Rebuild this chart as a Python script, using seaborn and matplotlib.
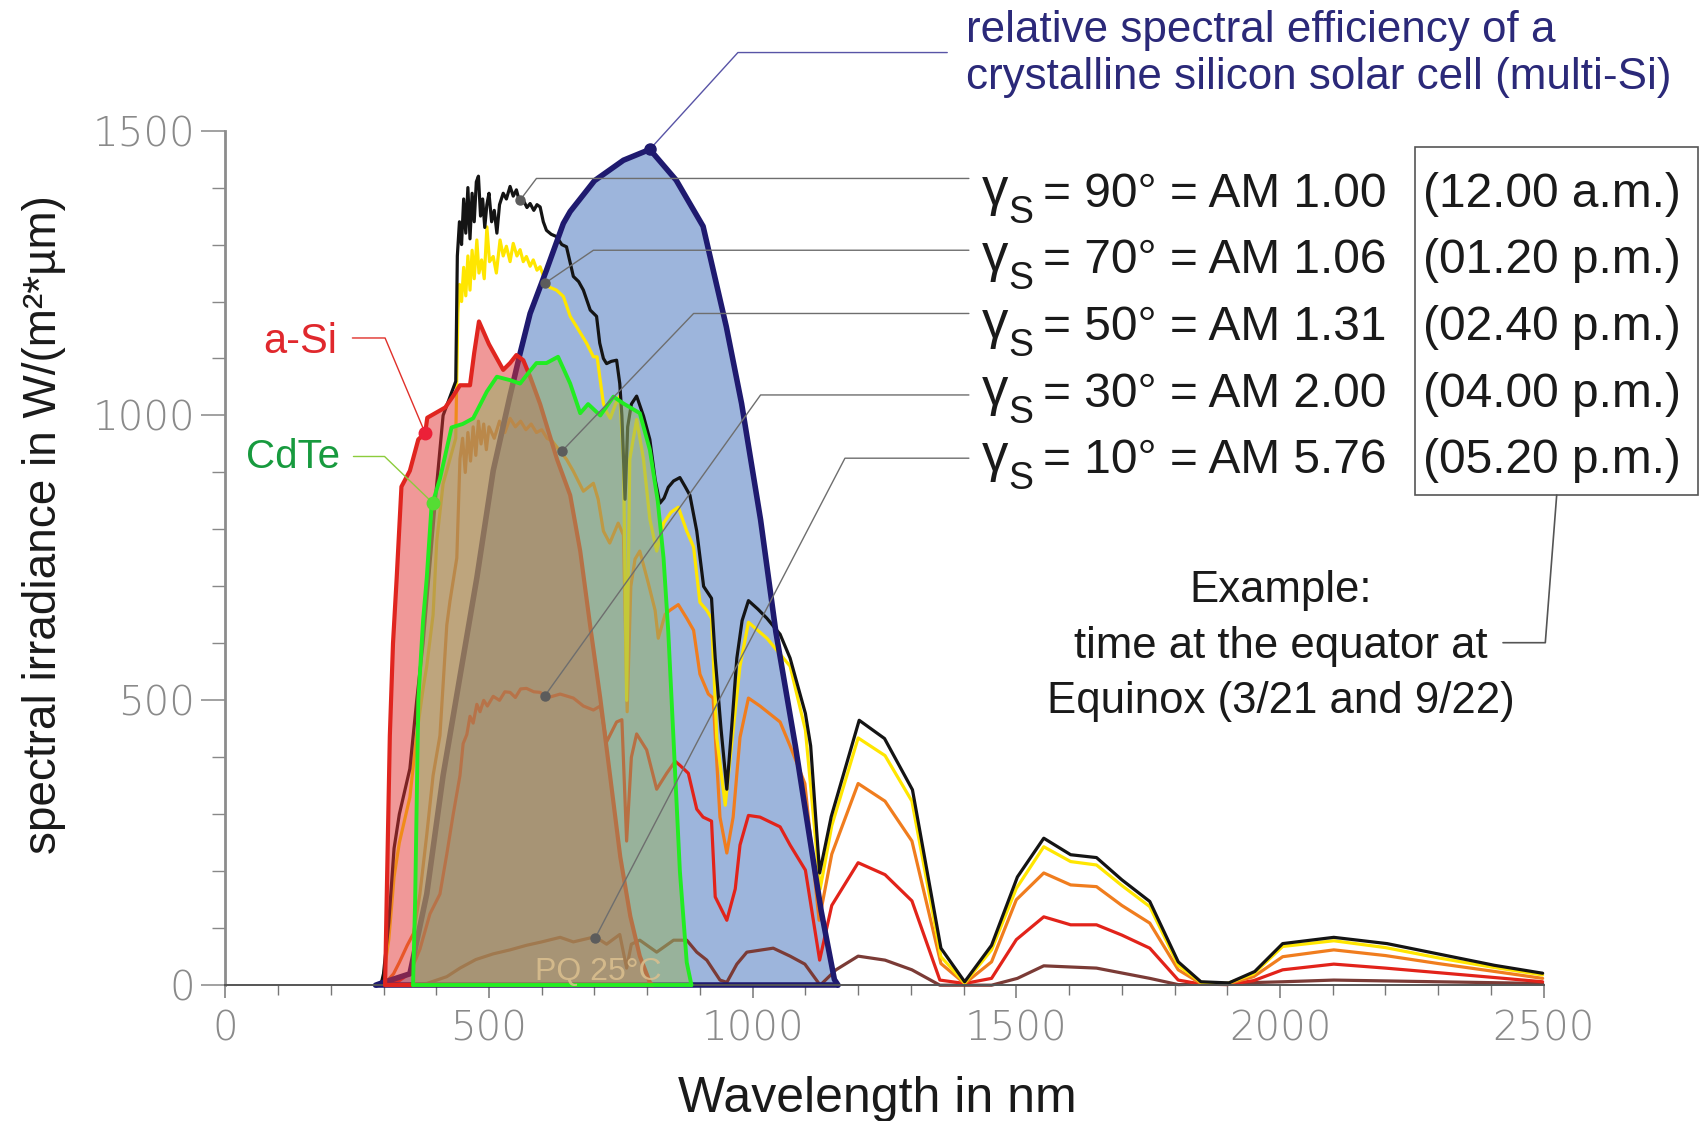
import matplotlib
matplotlib.use("Agg")
import matplotlib.pyplot as plt
import seaborn as sns
import pandas as pd
from matplotlib.patches import Rectangle
from matplotlib.lines import Line2D
from matplotlib.ticker import MultipleLocator

# ---------------- data ----------------
# relative spectral efficiency of multi-Si (scaled)
msi_nm = [285, 300, 350, 382, 413, 445, 477, 508, 540, 559, 578, 609, 641, 654, 700, 755, 805,
          855, 906, 950, 979, 1015, 1044, 1081, 1102, 1130, 1155, 1162]
msi_val = [0, 5, 20, 160, 368, 542, 715, 903, 1035, 1109, 1179, 1255, 1337, 1358, 1412, 1448, 1467,
           1413, 1332, 1156, 1021, 817, 620, 420, 295, 130, 10, 0]

# a-Si relative response (scaled)
asi_nm = [303, 306, 312, 318, 325, 334, 350, 366, 379, 383, 400, 417, 432, 445, 464, 472, 481, 500,
          527, 540, 552, 565, 578, 597, 629, 654, 673, 692, 711, 730, 749, 768, 786, 805, 810]
asi_val = [0, 150, 438, 600, 715, 875, 903, 958, 969, 996, 1005, 1014, 1034, 1053, 1053, 1110, 1165, 1125,
           1080, 1092, 1106, 1097, 1068, 1020, 923, 860, 762, 630, 504, 365, 225, 121, 51, 5, 0]

# CdTe relative response (scaled)
cdte_nm = [356, 360, 366, 375, 382, 391, 407, 429, 450, 470, 496, 515, 540, 559, 575, 590, 609, 631,
           654, 673, 688, 711, 736, 755, 786, 805, 820, 831, 840, 850, 862, 875, 884]
cdte_val = [0, 150, 500, 640, 715, 840, 889, 979, 985, 995, 1042, 1068, 1062, 1056, 1075, 1092, 1092, 1103,
            1056, 1004, 1020, 1000, 1033, 1021, 1004, 940, 850, 750, 620, 430, 200, 40, 0]

# spectra: gamma_S = 90 deg (AM 1.00)
am100_nm = [295, 300, 310, 320, 330, 340, 350, 363, 375, 390, 401, 413, 425, 437, 440, 444, 448, 452,
            456, 460, 464, 468, 472, 476, 480, 484, 488, 492, 496, 500, 505, 510, 515, 520, 527, 533,
            540, 546, 552, 558, 565, 572, 578, 585, 591, 597, 603, 609, 618, 628, 638, 647, 660, 670,
            679, 692, 704, 710, 717, 723, 732, 742, 748, 752, 758, 763, 770, 780, 793, 805, 815, 824,
            832, 840, 850, 862, 872, 881, 894, 907, 922, 929, 940, 951, 960, 970, 980, 992, 1010, 1027,
            1052, 1071, 1100, 1110, 1127, 1149, 1202, 1250, 1303, 1357, 1402, 1453, 1502, 1552, 1603,
            1652, 1700, 1753, 1807, 1850, 1903, 1952, 2005, 2102, 2203, 2310, 2406, 2498]
am100_val = [0, 20, 110, 240, 300, 340, 380, 500, 600, 760, 880, 1000, 1030, 1060, 1280, 1340, 1300, 1380,
             1320, 1400, 1310, 1390, 1340, 1410, 1420, 1350, 1380, 1330, 1370, 1390, 1340, 1360, 1320, 1370, 1390, 1380,
             1402, 1385, 1396, 1375, 1378, 1365, 1372, 1360, 1370, 1366, 1340, 1325, 1318, 1314, 1300, 1296, 1244, 1235,
             1220, 1185, 1174, 1127, 1100, 1091, 1095, 1097, 1056, 1000, 853, 980, 1020, 1034, 999, 958, 888, 846,
             855, 874, 885, 891, 875, 860, 797, 700, 679, 574, 450, 344, 450, 574, 640, 675, 660, 644,
             616, 574, 477, 420, 197, 296, 465, 433, 343, 65, 6, 70, 190, 258, 229,
             224, 185, 147, 41, 6, 4, 24, 73, 84, 73, 53, 35, 21]

# gamma_S = 70 deg (AM 1.06)
am106_nm = [295, 300, 310, 320, 330, 340, 350, 363, 375, 382, 394, 401, 413, 425, 437, 441, 444, 448,
            452, 456, 460, 464, 468, 472, 477, 481, 486, 491, 496, 501, 508, 514, 521, 527, 533, 540,
            546, 553, 559, 565, 571, 578, 584, 591, 597, 606, 615, 628, 641, 654, 666, 685, 698, 705,
            710, 717, 723, 730, 740, 748, 755, 761, 767, 780, 793, 805, 818, 831, 845, 859, 875, 888,
            900, 913, 922, 932, 948, 963, 976, 992, 1027, 1052, 1071, 1100, 1128, 1150, 1200, 1251,
            1302, 1357, 1402, 1453, 1500, 1552, 1603, 1652, 1700, 1753, 1807, 1850, 1900, 1950, 2005,
            2102, 2200, 2300, 2400, 2498]
am106_val = [0, 15, 80, 190, 250, 290, 330, 440, 520, 560, 650, 780, 880, 920, 960, 1180, 1230, 1200,
             1260, 1210, 1280, 1220, 1290, 1240, 1308, 1250, 1273, 1240, 1331, 1270, 1279, 1250, 1308, 1280, 1297, 1270,
             1302, 1280, 1291, 1270, 1279, 1262, 1273, 1255, 1261, 1238, 1225, 1220, 1209, 1174, 1156, 1127, 1103, 1103,
             1068, 1021, 1006, 995, 1020, 1034, 923, 500, 923, 993, 923, 818, 762, 811, 830, 839, 797, 769,
             672, 658, 644, 434, 316, 448, 560, 637, 609, 581, 560, 448, 169, 280, 434, 403,
             323, 50, 4, 62, 170, 243, 217, 211, 175, 138, 35, 5, 3, 20, 68,
             78, 66, 48, 32, 18]

# gamma_S = 50 deg (AM 1.31)
am131_nm = [300, 319, 330, 345, 357, 369, 382, 394, 407, 420, 426, 439, 445, 450, 455, 460, 465, 470,
            475, 480, 485, 490, 495, 500, 510, 520, 530, 540, 550, 560, 570, 580, 590, 600, 610, 620,
            635, 647, 660, 679, 698, 707, 717, 729, 745, 755, 762, 769, 777, 786, 802, 815, 821, 834,
            843, 859, 875, 888, 900, 916, 925, 938, 951, 963, 976, 992, 1014, 1052, 1071, 1099, 1126,
            1150, 1200, 1251, 1302, 1357, 1402, 1453, 1500, 1552, 1603, 1652, 1700, 1753, 1807, 1850,
            1900, 1950, 2005, 2102, 2200, 2300, 2400, 2498]
am131_val = [0, 20, 40, 70, 91, 160, 264, 368, 438, 632, 674, 750, 924, 960, 900, 970, 920, 980,
             930, 990, 950, 985, 940, 980, 960, 990, 970, 995, 980, 990, 975, 985, 970, 975, 960, 955,
             937, 923, 902, 867, 881, 853, 797, 776, 811, 790, 480, 700, 748, 762, 706, 658, 609, 651,
             658, 668, 644, 623, 546, 511, 504, 295, 232, 295, 435, 504, 490, 462, 420, 354, 114,
             230, 354, 323, 253, 38, 3, 41, 150, 197, 176, 173, 140, 109, 27, 3,
             2, 15, 50, 62, 52, 38, 25, 12]

# gamma_S = 30 deg (AM 2.00)
am200_nm = [300, 330, 350, 369, 388, 407, 420, 432, 445, 451, 458, 464, 470, 477, 483, 490, 497, 508,
            520, 530, 540, 550, 560, 571, 585, 597, 609, 635, 660, 679, 698, 711, 723, 742, 752, 761,
            770, 780, 799, 818, 837, 853, 862, 878, 894, 906, 922, 929, 951, 967, 976, 992, 1014, 1052,
            1071, 1100, 1127, 1150, 1200, 1251, 1302, 1355, 1402, 1453, 1500, 1552, 1603, 1652, 1700,
            1753, 1807, 1850, 1900, 1950, 2005, 2102, 2200, 2300, 2400, 2498]
am200_val = [0, 8, 21, 63, 125, 160, 230, 299, 368, 424, 440, 472, 460, 493, 480, 500, 490, 507,
             500, 515, 514, 505, 520, 521, 515, 514, 504, 511, 504, 490, 483, 490, 427, 462, 466, 253,
             400, 441, 413, 344, 372, 393, 386, 372, 309, 295, 288, 155, 114, 169, 246, 298, 295, 278,
             246, 202, 44, 140, 215, 194, 148, 9, 3, 12, 80, 120, 106, 106, 88,
             65, 9, 2, 1, 8, 27, 37, 30, 22, 14, 6]

# gamma_S = 10 deg (AM 5.76)
am576_nm = [330, 382, 420, 445, 475, 508, 540, 571, 600, 635, 660, 701, 723, 748, 761, 770, 786, 818,
            850, 875, 894, 913, 938, 951, 970, 989, 1039, 1071, 1099, 1128, 1158, 1200, 1251, 1302,
            1355, 1453, 1502, 1552, 1652, 1753, 1807, 2005, 2102, 2498]
am576_val = [0, 3, 15, 30, 45, 55, 62, 70, 76, 84, 76, 85, 72, 89, 30, 72, 79, 58,
             79, 79, 58, 44, 9, 5, 37, 58, 65, 51, 37, 0, 27, 51, 44, 27,
             0, 0, 12, 34, 30, 12, 1, 6, 9, 3]

series_names = ["AM 5.76", "AM 2.00", "AM 1.31", "AM 1.06", "AM 1.00"]
series_colors = ["#7b3b36", "#e2231a", "#f07d1e", "#ffe600", "#141414"]

# labels
gamma_angles = ["90°", "70°", "50°", "30°", "10°"]
am_labels = ["AM 1.00", "AM 1.06", "AM 1.31", "AM 2.00", "AM 5.76"]
time_labels = ["(12.00 a.m.)", "(01.20 p.m.)", "(02.40 p.m.)", "(04.00 p.m.)", "(05.20 p.m.)"]

# leader anchors (data coords): dot on curve, corner of the leader
lead_dot_nm = [559, 606, 638, 606, 701]
lead_dot_val = [1378, 1232, 937, 508, 82]
lead_corner_nm = [590, 698, 888, 1015, 1175]
lead_corner_val = [1416, 1290, 1179, 1036, 925]
lead_end_nm = 1410

x_ticks = [0, 500, 1000, 1500, 2000, 2500]
y_ticks = [0, 500, 1000, 1500]

# ---------------- figure ----------------
sns.set_style("white")
plt.rcParams['font.family'] = ['Liberation Sans', 'DejaVu Sans']

W, H = 1707, 1121
fig = plt.figure(figsize=(W / 100, H / 100), dpi=100)
ax = fig.add_axes([225.3 / W, 1 - 985.2 / H, 1318.4 / W, 854.6 / H])
ax.set_xlim(0, 2500)
ax.set_ylim(0, 1500)


def fx(X):
    return X / W


def fy(Y):
    return 1 - Y / H


# multi-Si efficiency area
ax.fill_between(msi_nm, msi_val, 0, facecolor="#9db5dc", lw=0, zorder=1)
sns.lineplot(x=msi_nm, y=msi_val, color="#1f1a6f", linewidth=4.0, sort=False, estimator=None,
             ax=ax, zorder=2.5, clip_on=False)
ax.plot([msi_nm[0], msi_nm[-1]], [0, 0], color="#1f1a6f", lw=4.0, zorder=2.5, clip_on=False,
        solid_capstyle="butt")

# spectra
frames = []
for name, xs, ys in [("AM 1.00", am100_nm, am100_val), ("AM 1.06", am106_nm, am106_val),
                     ("AM 1.31", am131_nm, am131_val), ("AM 2.00", am200_nm, am200_val),
                     ("AM 5.76", am576_nm, am576_val)]:
    frames.append(pd.DataFrame({"nm": xs, "val": ys, "series": name}))
spec = pd.concat(frames, ignore_index=True)
sns.lineplot(data=spec, x="nm", y="val", hue="series", hue_order=series_names,
             palette=dict(zip(series_names, series_colors)), estimator=None, sort=False,
             legend=False, linewidth=2.3, ax=ax, zorder=2, clip_on=False)

# a-Si area
ax.fill_between(asi_nm, asi_val, 0, facecolor=(226 / 255, 50 / 255, 50 / 255, 0.5), lw=0, zorder=3)
sns.lineplot(x=asi_nm, y=asi_val, color="#e0251f", linewidth=3.0, sort=False, estimator=None,
             ax=ax, zorder=3.2, clip_on=False)
ax.plot([asi_nm[0], asi_nm[-1]], [0, 0], color="#e0251f", lw=3.0, zorder=3.2, clip_on=False)

# CdTe area
ax.fill_between(cdte_nm, cdte_val, 0, facecolor=(149 / 255, 177 / 255, 103 / 255, 0.55), lw=0, zorder=4)
sns.lineplot(x=cdte_nm, y=cdte_val, color="#22ec22", linewidth=2.8, sort=False, estimator=None,
             ax=ax, zorder=4.2, clip_on=False)
ax.plot([cdte_nm[0], cdte_nm[-1]], [0, 0], color="#22ec22", lw=2.8, zorder=4.2, clip_on=False)

# PQ 25 C
fig.text(fx(535), fy(980), "PQ 25°C", fontsize=23, color="#dcc08f", alpha=0.85, zorder=10)

# leaders for the spectra
for i in range(5):
    ax.plot([lead_dot_nm[i], lead_corner_nm[i], lead_end_nm],
            [lead_dot_val[i], lead_corner_val[i], lead_corner_val[i]],
            color="#6e6e6e", lw=1.0, zorder=6, clip_on=False)
    ax.plot(lead_dot_nm[i], lead_dot_val[i], "o", ms=6.5, color="#5c5c5c", zorder=6.5, clip_on=False)

# leader for multi-Si
ax.plot([805, 972, 1369], [1467, 1637, 1637], color="#5854a6", lw=1.0, zorder=6, clip_on=False)
ax.plot(805, 1467, "o", ms=8, color="#1f1a6f", zorder=6.5, clip_on=False)

# a-Si / CdTe leaders
ax.plot([241, 303, 379], [1136, 1136, 969], color="#e0302a", lw=1.0, zorder=6, clip_on=False)
ax.plot(379, 969, "o", ms=9, color="#ec2038", zorder=6.5, clip_on=False)
ax.plot([243, 302, 394], [928, 928, 846], color="#8ccc3c", lw=1.0, zorder=6, clip_on=False)
ax.plot(394, 846, "o", ms=9, color="#55dd33", zorder=6.5, clip_on=False)

fig.text(fx(263), fy(353), "a-Si", fontsize=30, color="#e0282d", va="baseline")
fig.text(fx(246), fy(468), "CdTe", fontsize=29, color="#179a3e", va="baseline")

# right-hand labels
row_base = [206.7, 273.3, 340.0, 406.7, 473.3]
for i in range(5):
    yb = row_base[i]
    fig.text(fx(982), fy(yb - 2), "γ", fontsize=38, color="#1a1a1a", va="baseline")
    fig.text(fx(1008), fy(yb + 16), "S", fontsize=27, color="#1a1a1a", va="baseline")
    fig.text(fx(1043), fy(yb), f"= {gamma_angles[i]} = {am_labels[i]}", fontsize=34.5,
             color="#1a1a1a", va="baseline")
    fig.text(fx(1423), fy(yb), time_labels[i], fontsize=34.5, color="#1a1a1a", va="baseline")

fig.add_artist(Rectangle((fx(1415), fy(495)), (1698 - 1415) / W, (495 - 146.7) / H,
                         transform=fig.transFigure, fill=False, ec="#555555", lw=1.2))
fig.add_artist(Line2D([fx(1556.7), fx(1545.3), fx(1503)], [fy(495), fy(642.7), fy(642.7)],
                      transform=fig.transFigure, color="#555555", lw=1.2))

fig.text(fx(1281), fy(601.7), "Example:", fontsize=31.5, color="#1a1a1a", ha="center", va="baseline")
fig.text(fx(1281), fy(658.3), "time at the equator at", fontsize=31.5, color="#1a1a1a",
         ha="center", va="baseline")
fig.text(fx(1281), fy(713.3), "Equinox (3/21 and 9/22)", fontsize=31.5, color="#1a1a1a",
         ha="center", va="baseline")

fig.text(fx(966), fy(42), "relative spectral efficiency of a", fontsize=31.7, color="#2b2979", va="baseline")
fig.text(fx(966), fy(89), "crystalline silicon solar cell (multi-Si)", fontsize=31.7, color="#2b2979",
         va="baseline")

# axis labels
fig.text(fx(44), fy(525), "spectral irradiance in W/(m²*µm)", fontsize=33, color="#1a1a1a",
         rotation=90, ha="center", va="center")
fig.text(fx(877.5), fy(1111.7), "Wavelength in nm", fontsize=36, color="#1a1a1a",
         ha="center", va="baseline")

# axes styling
for s in ["top", "right"]:
    ax.spines[s].set_visible(False)
ax.spines["left"].set_color("#8c8c8c")
ax.spines["left"].set_linewidth(2.0)
ax.spines["bottom"].set_color("#555555")
ax.spines["bottom"].set_linewidth(1.4)
ax.set_xticks(x_ticks)
ax.set_yticks(y_ticks)
ax.set_xticklabels([str(t) for t in x_ticks])
ax.set_yticklabels([str(t) for t in y_ticks])
ax.xaxis.set_minor_locator(MultipleLocator(100))
ax.yaxis.set_minor_locator(MultipleLocator(100))
ax.tick_params(axis="x", which="major", direction="out", length=9.4, width=1.1, color="#777777",
               labelsize=29, labelcolor="#8a8a8a", pad=8, bottom=True)
ax.tick_params(axis="x", which="minor", direction="out", length=7.0, width=1.0, color="#777777", bottom=True)
ax.tick_params(axis="y", which="major", direction="out", length=17, width=1.1, color="#888888",
               labelsize=29, labelcolor="#8a8a8a", pad=5, left=True)
ax.tick_params(axis="y", which="minor", direction="out", length=9.4, width=1.0, color="#888888", left=True)
for lab in ax.get_xticklabels() + ax.get_yticklabels():
    lab.set_family("DejaVu Sans")
    lab.set_fontweight("light")
ax.set_xlabel("")
ax.set_ylabel("")
ax.grid(False)
ax.set_facecolor("white")

fig.savefig("out.png", dpi=100, facecolor="white")
